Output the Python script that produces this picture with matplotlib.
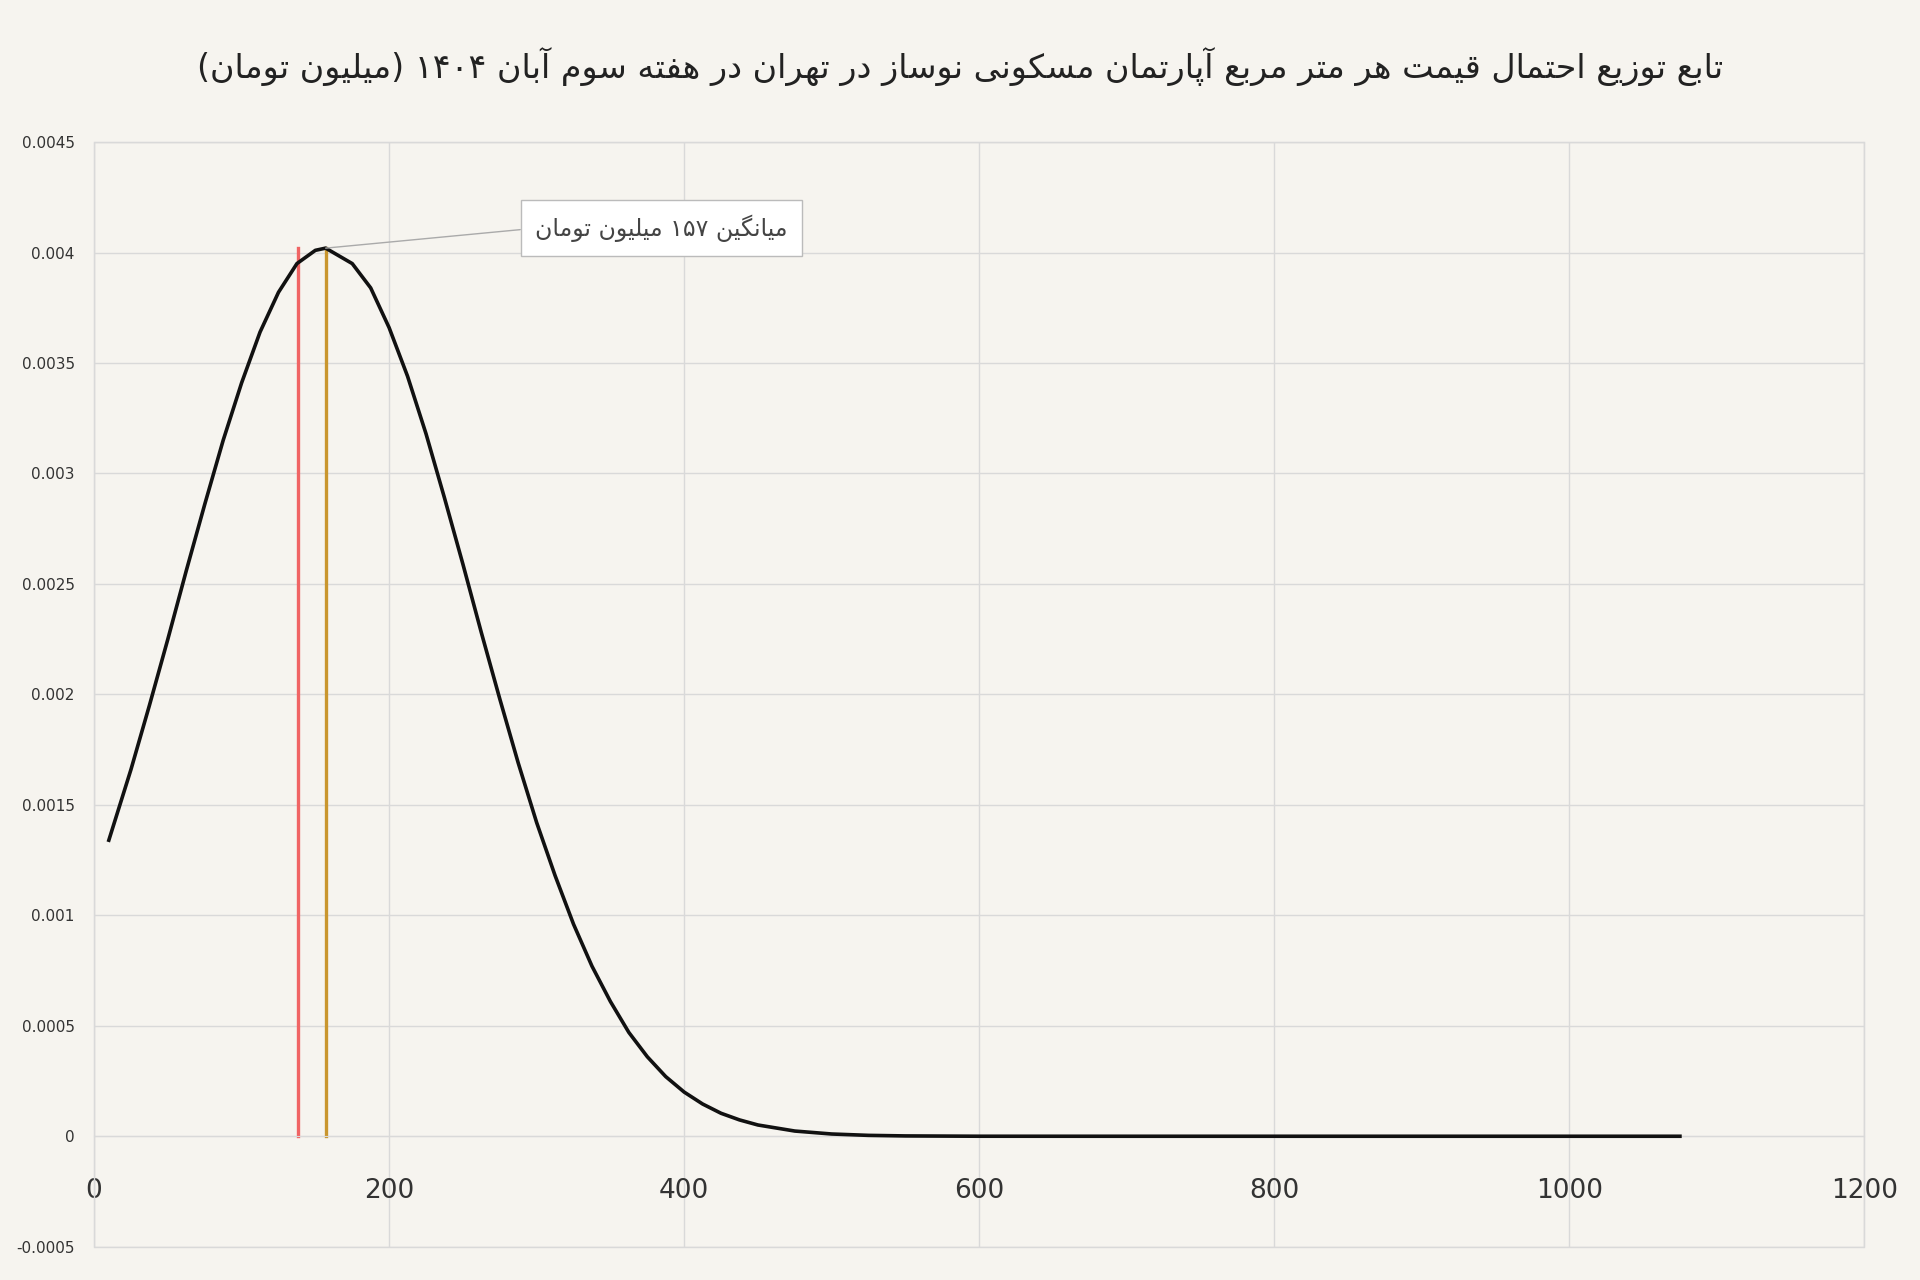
import unicodedata
import matplotlib
matplotlib.use("Agg")
import matplotlib.pyplot as plt
from matplotlib.patches import Rectangle

# ---------- data ----------
price = [10, 25, 37.5, 50, 62.5, 75, 87.5, 100, 112.5, 125, 137.5, 150, 157, 175, 187.5,
         200, 212.5, 225, 237.5, 250, 262.5, 275, 287.5, 300, 312.5, 325, 337.5, 350,
         362.5, 375, 387.5, 400, 412.5, 425, 437.5, 450, 475, 500, 525, 550, 600,
         700, 800, 900, 1000, 1075]
density = [0.00134, 0.00166, 0.00195, 0.00225, 0.00256, 0.00286, 0.00315, 0.00341, 0.00364,
           0.00382, 0.00395, 0.00401, 0.00402, 0.00395, 0.00384, 0.00366, 0.00344, 0.00318,
           0.00289, 0.00259, 0.00228, 0.00198, 0.00169, 0.00142, 0.00118, 0.00096, 0.00077,
           0.00061, 0.00047, 0.00036, 0.00027, 0.00020, 0.000146, 0.000104, 0.000074,
           0.000051, 0.0000236, 0.0000102, 0.000004, 0.0000015, 0.0000001,
           0, 0, 0, 0, 0]
mode_x = 138
mean_x = 157
peak_y = 0.00402
xticks = [0, 200, 400, 600, 800, 1000, 1200]
yticks = [-0.0005, 0, 0.0005, 0.001, 0.0015, 0.002, 0.0025, 0.003, 0.0035, 0.004, 0.0045]
ytick_labels = ["-0.0005", "0", "0.0005", "0.001", "0.0015", "0.002", "0.0025",
                "0.003", "0.0035", "0.004", "0.0045"]
title = "تابع توزیع احتمال قیمت هر متر مربع آپارتمان مسکونی نوساز در تهران در هفته سوم آبان ۱۴۰۴ (میلیون تومان)"
label = "میانگین ۱۵۷ میلیون تومان"

# ---------- minimal Arabic/Persian shaping ----------
forms = {}
for cp in list(range(0xFB50, 0xFE00)) + list(range(0xFE70, 0xFF00)):
    d = unicodedata.decomposition(chr(cp))
    if d.startswith("<"):
        tag, *rest = d.split()
        key = "".join(chr(int(h, 16)) for h in rest)
        forms.setdefault((key, tag), chr(cp))

def has(ch, tag):
    return (ch, tag) in forms

def joining(ch):
    return has(ch, "<isolated>") or has(ch, "<final>")

def dual(ch):
    return has(ch, "<initial>") or has(ch, "<medial>")

def shape(s):
    units = []
    i = 0
    while i < len(s):
        if s[i] == "ل" and i + 1 < len(s) and s[i + 1] in "اآأإ":
            units.append(s[i:i + 2]); i += 2
        else:
            units.append(s[i]); i += 1
    out = []
    for i, u in enumerate(units):
        first = u[0]
        if not joining(first):
            out.append(u); continue
        prev = units[i - 1] if i > 0 else None
        nxt = units[i + 1] if i + 1 < len(units) else None
        cp = prev is not None and len(prev) == 1 and dual(prev)
        is_dual = len(u) == 1 and dual(u)
        cn = is_dual and nxt is not None and joining(nxt[0])
        if cp and cn: tag = "<medial>"
        elif cp: tag = "<final>"
        elif cn: tag = "<initial>"
        else: tag = "<isolated>"
        out.append(forms.get((u, tag), forms.get((u, "<isolated>"), u)))
    rev = out[::-1]
    res, run = [], []
    for ch in rev:
        if ch.isdigit():
            run.append(ch)
        else:
            if run:
                res.extend(run[::-1]); run = []
            res.append({"(": ")", ")": "("}.get(ch, ch))
    res.extend(run[::-1])
    return "".join(res)

# ---------- plot ----------
plt.rcParams["font.family"] = ["DejaVu Sans"]
bg = "#f6f4ef"
fig = plt.figure(figsize=(19.2, 12.8), dpi=100, facecolor=bg)
ax = fig.add_axes([0.049, 0.026, 0.922, 0.863], facecolor=bg)

ax.set_xlim(0, 1200)
ax.set_ylim(-0.0005, 0.0045)
ax.set_xticks(xticks)
ax.set_yticks(yticks)
ax.set_yticklabels(ytick_labels, fontsize=11, color="#333333")
ax.tick_params(axis="y", length=0, pad=14)
ax.tick_params(axis="x", length=0, pad=30, labelsize=19, labelcolor="#333333")
ax.grid(True, color="#d9d9d9", linewidth=1)
ax.set_axisbelow(True)
for sp in ["top", "right", "left"]:
    ax.spines[sp].set_color("#d9d9d9")
ax.spines["bottom"].set_position(("data", 0))
ax.spines["bottom"].set_color("#d9d9d9")
ax.add_patch(Rectangle((0, 0), 1, 1, transform=ax.transAxes, fill=False,
                       edgecolor="#d9d9d9", lw=1, clip_on=False))

ax.plot(price, density, color="#111111", lw=2.6, zorder=3, solid_joinstyle="round")
ax.plot([mode_x, mode_x], [0, peak_y], color="#f06464", lw=2.4, zorder=2)
ax.plot([mean_x, mean_x], [0, peak_y], color="#c9962e", lw=2.4, zorder=2)

ax.annotate(shape(label), xy=(mean_x, peak_y), xytext=(470, 0.00411),
            ha="right", va="center", fontsize=17, color="#444444",
            bbox=dict(boxstyle="square,pad=0.6", fc="white", ec="#bbbbbb"),
            arrowprops=dict(arrowstyle="-", color="#aaaaaa", lw=1,
                            shrinkA=0, shrinkB=0, relpos=(0, 0.5)), zorder=4)

fig.text(0.5, 0.948, shape(title), ha="center", va="center", fontsize=24, color="#222222")

fig.savefig("out.png", dpi=100, facecolor=bg)
